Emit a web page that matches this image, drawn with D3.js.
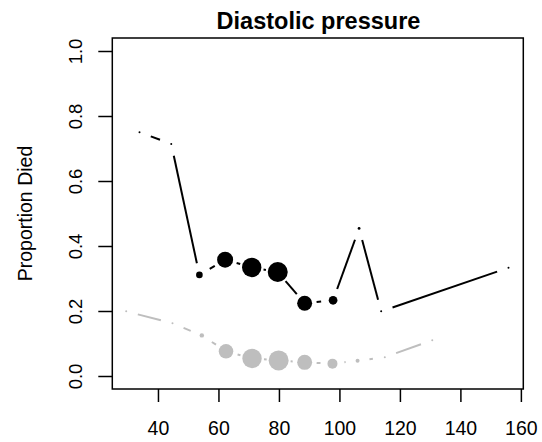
<!DOCTYPE html>
<html>
<head>
<meta charset="utf-8">
<script src="https://cdn.jsdelivr.net/npm/d3@7"></script>
<style>
  body { margin: 0; background: #fff; }
  svg { display: block; }
</style>
</head>
<body>
<svg id="chart" width="542" height="442"></svg>
<script>
const width = 542;
const height = 442;

// diastolic pressure bins, proportion died, and count in each bin
const diedX = [33.9, 44.4, 53.7, 62.2, 71.0, 79.6, 88.5, 97.9, 106.5, 113.8, 155.9];
const diedY = [0.75, 0.714, 0.311, 0.358, 0.334, 0.320, 0.224, 0.233, 0.454, 0.199, 0.333];
const diedN = [1, 1, 11, 64, 94, 100, 56, 19, 2, 1, 1];

const refX = [29.5, 44.8, 54.5, 62.5, 71.1, 79.9, 88.5, 97.7, 106.0, 115.0, 130.7];
const refY = [0.199, 0.162, 0.125, 0.076, 0.054, 0.048, 0.042, 0.038, 0.047, 0.058, 0.110];
const refN = [1, 1, 5, 53, 94, 100, 56, 25, 4, 1, 1];

const xTicks = [40, 60, 80, 100, 120, 140, 160];
const yTicks = [0, 0.2, 0.4, 0.6, 0.8, 1.0];

const TITLE = "Diastolic pressure";
const Y_LABEL = "Proportion Died";

const GAP = 12; // R type="b" leaves a gap round each point

const svg = d3.select("#chart");

const x = d3.scaleLinear().domain([24.9, 160.8]).range([112.3, 523.3]);
const y = d3.scaleLinear().domain([-0.04, 1.04]).range([389, 38]);
const r = d3.scaleSqrt().domain([0, 100]).range([0, 10]);

const font = "Liberation Sans, Arial, sans-serif";

function drawSeries(xs, ys, ns, color) {
  const pts = xs.map((v, i) => ({ x: x(v), y: y(ys[i]), n: ns[i] }));
  const g = svg.append("g");

  // segments between points, shortened at both ends
  d3.pairs(pts).forEach(([a, b]) => {
    const len = Math.hypot(b.x - a.x, b.y - a.y);
    const f = GAP / len;
    if (f >= 0.5) return;
    g.append("line")
      .attr("x1", a.x + f * (b.x - a.x))
      .attr("y1", a.y + f * (b.y - a.y))
      .attr("x2", b.x - f * (b.x - a.x))
      .attr("y2", b.y - f * (b.y - a.y))
      .attr("stroke", color)
      .attr("stroke-width", 2);
  });

  g.selectAll("circle")
    .data(pts)
    .join("circle")
    .attr("cx", d => d.x)
    .attr("cy", d => d.y)
    .attr("r", d => Math.max(0.9, r(d.n)))
    .attr("fill", color);
}

drawSeries(refX, refY, refN, "#bebebe");
drawSeries(diedX, diedY, diedN, "#000");

// plot box
svg.append("rect")
  .attr("x", 112.3)
  .attr("y", 38)
  .attr("width", 523.3 - 112.3)
  .attr("height", 389 - 38)
  .attr("fill", "none")
  .attr("stroke", "#000")
  .attr("stroke-width", 1.5);

// x axis
const xAxis = svg.append("g")
  .attr("transform", "translate(0,389)")
  .call(d3.axisBottom(x).tickValues(xTicks).tickSize(13).tickFormat(d3.format("d")));
xAxis.select(".domain").remove();
xAxis.selectAll("line").attr("stroke-width", 1.5);
xAxis.selectAll("text")
  .attr("y", 46)
  .attr("dy", null)
  .attr("font-family", font)
  .attr("font-size", 19.5)
  .attr("fill", "#000");

// y axis, labels rotated as in R
const yAxis = svg.append("g")
  .attr("transform", "translate(112.3,0)")
  .call(d3.axisLeft(y).tickValues(yTicks).tickSize(14).tickFormat(d3.format(".1f")));
yAxis.select(".domain").remove();
yAxis.selectAll("line").attr("stroke-width", 1.5);
yAxis.selectAll("text")
  .attr("font-family", font)
  .attr("font-size", 18.5)
  .attr("fill", "#000")
  .attr("text-anchor", "middle")
  .attr("dy", null)
  .attr("x", null)
  .attr("transform", "translate(-30.6,0) rotate(-90)");

svg.append("text")
  .attr("transform", `translate(31.7,${(38 + 389) / 2}) rotate(-90)`)
  .attr("text-anchor", "middle")
  .attr("font-family", font)
  .attr("font-size", 19.5)
  .text(Y_LABEL);

svg.append("text")
  .attr("x", 318.5)
  .attr("y", 28.5)
  .attr("text-anchor", "middle")
  .attr("font-family", font)
  .attr("font-size", 23.5)
  .attr("font-weight", "bold")
  .text(TITLE);
</script>
</body>
</html>
